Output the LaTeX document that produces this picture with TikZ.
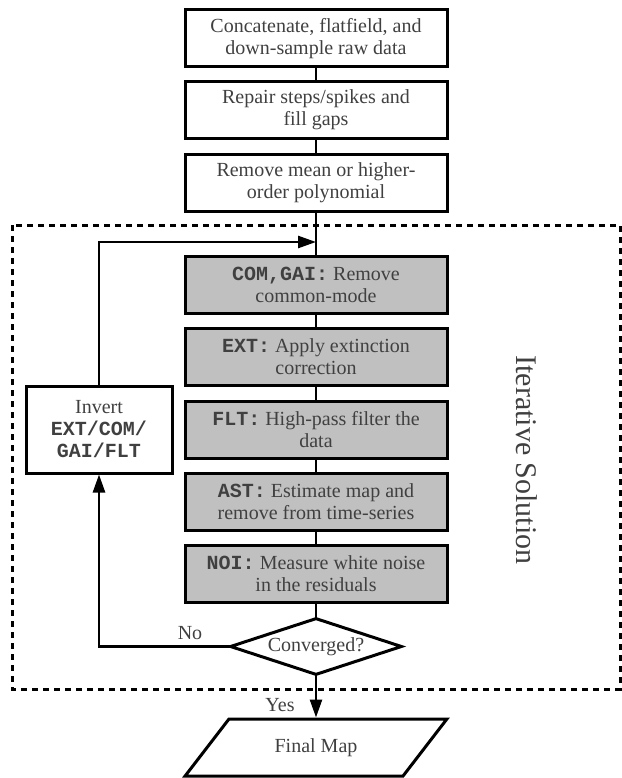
\documentclass[tikz,border=0pt]{standalone}
\usepackage{fontspec}
\setmainfont{Liberation Serif}
\setmonofont{Liberation Mono}
\usetikzlibrary{shapes.geometric,arrows.meta}

\begin{document}
\begin{tikzpicture}[x=1pt,y=-1pt,line cap=rect]
\definecolor{custcol_txt}{RGB}{64,64,64}
\definecolor{custcol_box}{RGB}{192,192,192}
\def\codetext#1{{\ttfamily\bfseries #1}}
\tikzset{
  stepbox/.style={draw, line width=3pt, rectangle, minimum width=262pt, minimum height=57pt,
    inner sep=0, align=center, text=custcol_txt, font=\fontsize{20pt}{22pt}\selectfont},
  iterbox/.style={stepbox, fill=custcol_box},
  link/.style={line width=2.6pt},
  flow/.style={link, -{Triangle[length=18pt,width=12pt]}},
  tag/.style={inner sep=0, text=custcol_txt, font=\fontsize{20pt}{22pt}\selectfont}
}
\useasboundingbox (0,0) rectangle (621,778);
% pre-processing
\node[stepbox] (concat) at (316,38.5) {Concatenate, flatfield, and\\down-sample raw data};
\node[stepbox] (repair) at (316,110) {Repair steps/spikes and\\fill gaps};
\node[stepbox] (poly) at (316,183) {Remove mean or higher-\\order polynomial};
% iterative loop
\draw [line width=3pt, line cap=butt, dash pattern=on 6pt off 5pt] (12,225) rectangle (620,689);
\node[tag, rotate=-90, font=\fontsize{30pt}{30pt}\selectfont] (itlabel) at (527,460) {Iterative Solution};
\node[iterbox] (com) at (316,284.5) {\codetext{COM,GAI:} Remove\\common-mode};
\node[iterbox] (ext) at (316,357) {\codetext{EXT:} Apply extinction\\correction};
\node[iterbox] (flt) at (316,429.5) {\codetext{FLT:} High-pass filter the\\data};
\node[iterbox] (ast) at (316,502) {\codetext{AST:} Estimate map and\\remove from time-series};
\node[iterbox] (noi) at (316,574) {\codetext{NOI:} Measure white noise\\in the residuals};
\node[stepbox, minimum width=146pt, minimum height=87pt] (invert) at (99,429.5) {Invert\\\codetext{EXT/COM/}\\\codetext{GAI/FLT}};
\node[draw, diamond, aspect=3, minimum width=172pt, minimum height=57pt, inner sep=0,
  line width=3pt, text=custcol_txt, font=\fontsize{20pt}{22pt}\selectfont] (conv) at (316,646.5) {Converged?};
\node[draw, trapezium, trapezium left angle=41, trapezium right angle=139, trapezium stretches=true,
  minimum width=262pt, minimum height=57pt, inner sep=0, line width=3pt,
  text=custcol_txt, font=\fontsize{20pt}{22pt}\selectfont] (final) at (316,747.5) {Final Map};
\coordinate (join) at (316,242);
\node[tag] (nolabel) at (190,633) {No};
\node[tag] (yeslabel) at (280,705) {Yes};
% connectors
\draw [link] (concat) -- (repair);
\draw [link] (repair) -- (poly);
\draw [link] (poly) -- (com);
\draw [link] (com) -- (ext);
\draw [link] (ext) -- (flt);
\draw [link] (flt) -- (ast);
\draw [link] (ast) -- (noi);
\draw [link] (noi) -- (conv);
\draw [flow] (conv) -- (final);
\draw [flow] (conv.west) -| (invert.south);
\draw [flow] (invert.north) |- (join);
\end{tikzpicture}
\end{document}
